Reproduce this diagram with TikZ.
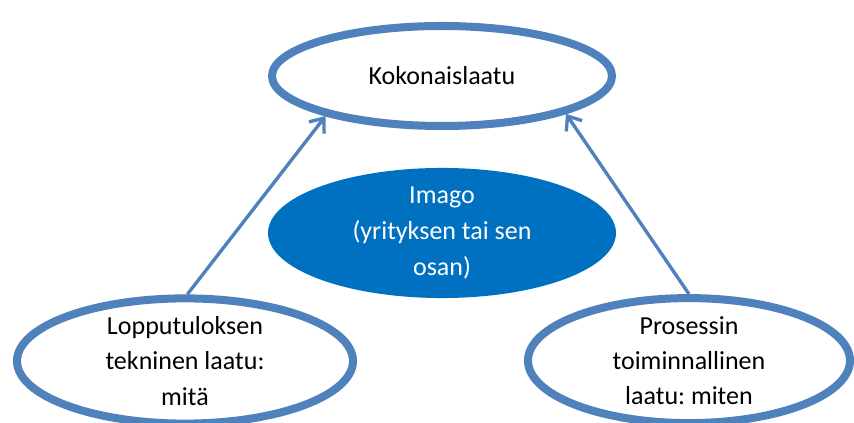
\documentclass[tikz,border=0pt]{standalone}
\usepackage{fontspec}
\setmainfont{Carlito}
\frenchspacing
\usetikzlibrary{arrows.meta,shapes.geometric}
\definecolor{qline}{RGB}{79,129,189}
\definecolor{qfill}{RGB}{0,112,192}

\begin{document}
\begin{tikzpicture}[line width=2.4pt,>={Straight Barb[length=3mm,width=4.8mm]},
  laatu/.style={ellipse,draw=qline,line width=5.7pt,fill=white,inner sep=0pt,
    align=center,font=\fontsize{18.5}{25}\selectfont},
  imago/.style={ellipse,fill=qfill,inner sep=0pt,text=white,
    align=center,font=\fontsize{18.5}{25.5}\selectfont}]
  \useasboundingbox (0,0) rectangle (21.35,10.575);
  \node[laatu,minimum width=8.5cm,minimum height=2.5cm] (koko) at (11.05,8.675) {Kokonaislaatu};
  \node[imago,minimum width=8.7cm,minimum height=3.25cm] (imago) at (11.05,4.75)
    {Imago\\(yrityksen tai sen\\osan)};
  \node[laatu,minimum width=8.4cm,minimum height=2.8cm] (lopputulos) at (4.625,1.55)
    {Lopputuloksen\\tekninen laatu:\\mitä};
  \node[laatu,minimum width=8.05cm,minimum height=2.78cm] (prosessi) at (17.225,1.56)
    {Prosessin\\toiminnallinen\\laatu: miten};
  \draw[qline,->] (lopputulos.88) -- (koko.199);
  \draw[qline,->] (prosessi.north) -- (koko.343);
\end{tikzpicture}
\end{document}
